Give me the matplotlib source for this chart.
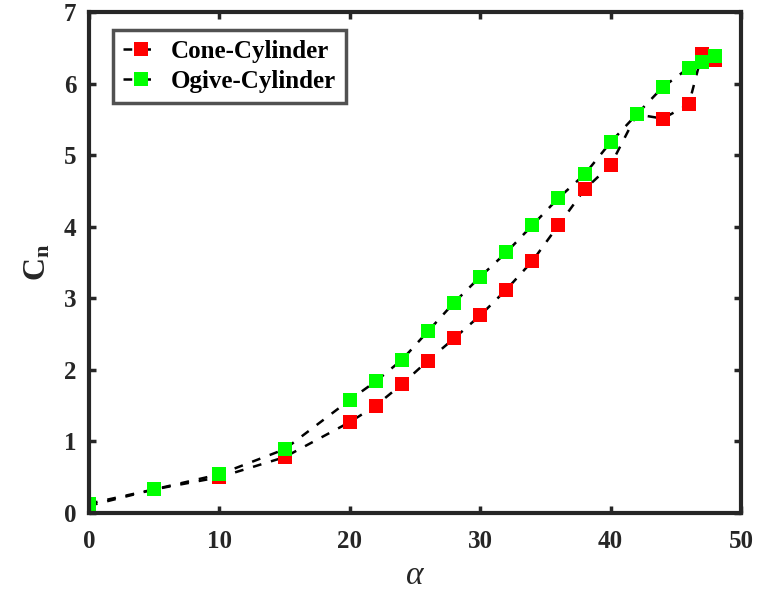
import matplotlib
matplotlib.use("Agg")
import matplotlib.pyplot as plt

# Normal force coefficient vs angle of attack
alpha_cone = [0, 5, 10, 15, 20, 22, 24, 26, 28, 30, 32, 34, 36, 38, 40, 42, 44, 46, 47, 48]
cn_cone = [0.10, 0.33, 0.50, 0.78, 1.27, 1.50, 1.80, 2.13, 2.44, 2.76, 3.12, 3.52, 4.02, 4.52, 4.86, 5.57, 5.51, 5.71, 6.41, 6.33]

alpha_ogive = [0, 5, 10, 15, 20, 22, 24, 26, 28, 30, 32, 34, 36, 38, 40, 42, 44, 46, 47, 48]
cn_ogive = [0.13, 0.33, 0.54, 0.89, 1.58, 1.84, 2.14, 2.54, 2.94, 3.30, 3.64, 4.02, 4.40, 4.73, 5.18, 5.57, 5.95, 6.22, 6.30, 6.39]

x_ticks = [0, 10, 20, 30, 40, 50]
y_ticks = [0, 1, 2, 3, 4, 5, 6, 7]

plt.rcParams['font.family'] = ['Liberation Serif', 'DejaVu Serif']
plt.rcParams['mathtext.fontset'] = 'custom'
plt.rcParams['mathtext.rm'] = 'Liberation Serif'
plt.rcParams['mathtext.it'] = 'Liberation Serif:italic'
plt.rcParams['mathtext.bf'] = 'Liberation Serif:bold'

fig = plt.figure(figsize=(7.58, 5.96), dpi=100)
ax = fig.add_axes([0.1174, 0.1393, 0.8602, 0.8406])

line_kw = dict(linestyle='--', color='black', linewidth=1.8, marker='s',
               markersize=10.5, markeredgewidth=0, dashes=(3.5, 4))
ax.plot(alpha_cone, cn_cone, markerfacecolor='#ff0000', label='Cone-Cylinder', **line_kw)
ax.plot(alpha_ogive, cn_ogive, markerfacecolor='#00ff00', label='Ogive-Cylinder', **line_kw)

ax.set_xlim(0, 50)
ax.set_ylim(0, 7)
ax.set_xticks(x_ticks)
ax.set_yticks(y_ticks)
ax.tick_params(direction='in', length=5, width=2.5, top=True, right=True,
               labelsize=18, colors='#262626', pad=12)
ax.tick_params(axis='y', pad=9)
for lab in ax.get_xticklabels() + ax.get_yticklabels():
    lab.set_fontweight('bold')
for sp in ax.spines.values():
    sp.set_linewidth(3)
    sp.set_color('#262626')

ax.set_xlabel(r'$\alpha$', fontsize=24, color='#262626', labelpad=6)
ax.set_ylabel(r'$\mathbf{C_n}$', fontsize=23, color='#262626', labelpad=8)

leg = ax.legend(loc='upper left', bbox_to_anchor=(0.037, 0.965),
                prop={'weight': 'bold', 'size': 18}, frameon=True, fancybox=False,
                handlelength=1.45, borderpad=0.4, labelspacing=0.3, handletextpad=0.45,
                borderaxespad=0.0)
leg.get_frame().set_edgecolor('#262626')
leg.get_frame().set_linewidth(2.5)

fig.savefig('out.png', dpi=100)
